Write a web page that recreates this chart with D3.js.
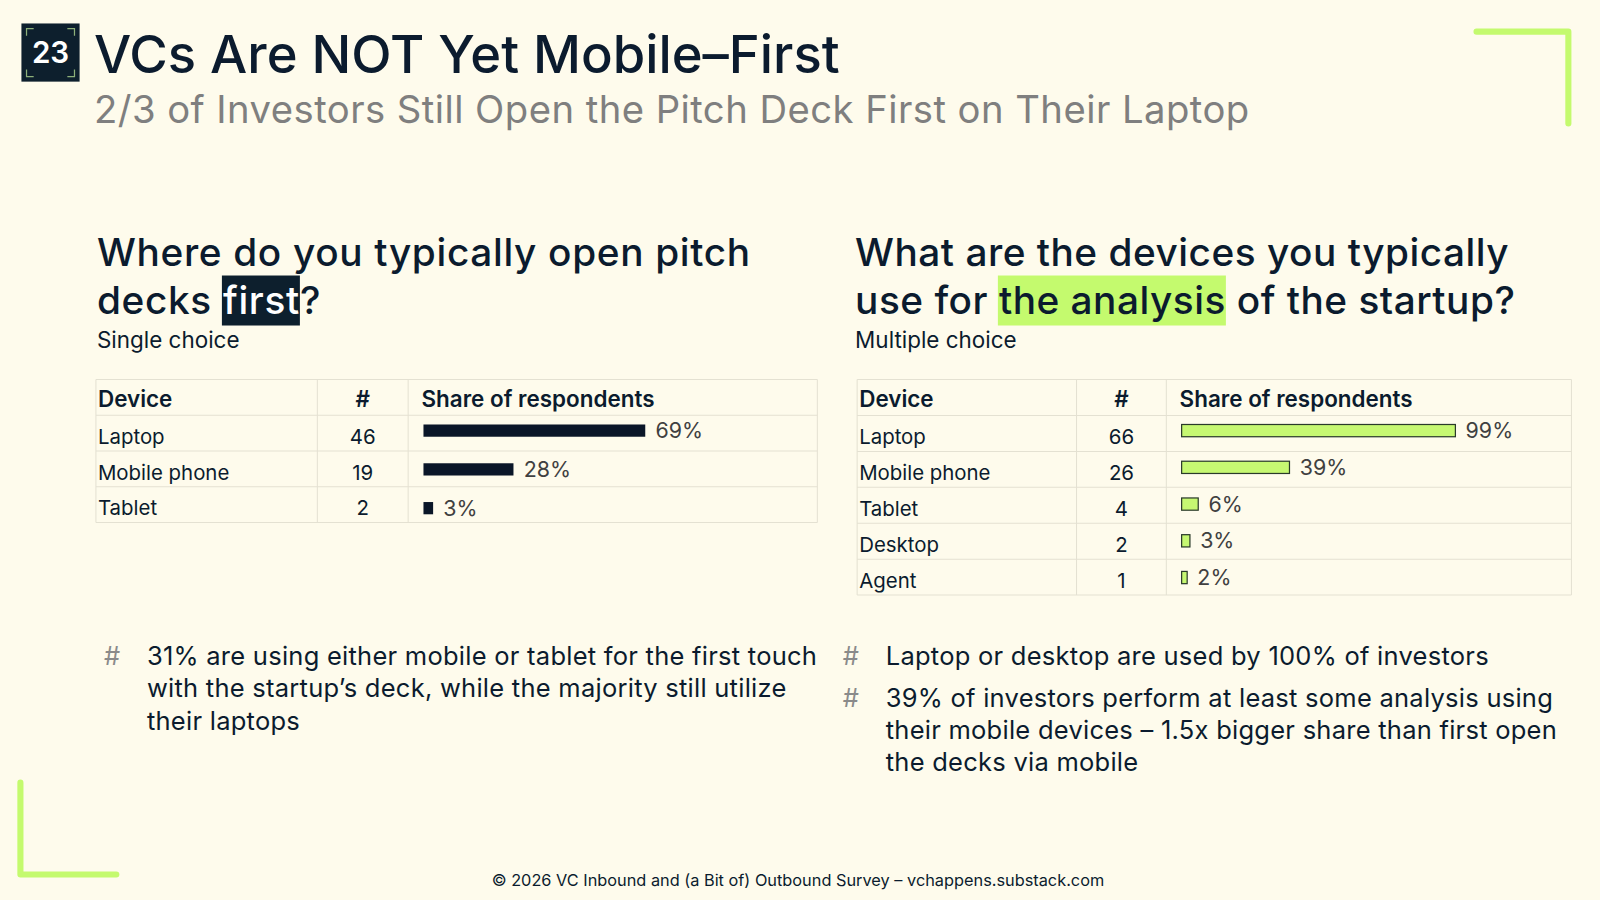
<!DOCTYPE html>
<html>
<head>
<meta charset="utf-8">
<script src="https://cdn.jsdelivr.net/npm/d3@7"></script>
<style>
  html, body { margin: 0; padding: 0; background: #fefbec; }
  svg { display: block; font-family: Inter, "Noto Sans", sans-serif; }
</style>
</head>
<body>
<div id="chart"></div>
<script>
// Data: first-open device (single choice)
const firstDevices = ['Laptop', 'Mobile phone', 'Tablet'];
const firstCounts = [46, 19, 2];
const firstShares = [69, 28, 3];

// Data: analysis device (multiple choice)
const analysisDevices = ['Laptop', 'Mobile phone', 'Tablet', 'Desktop', 'Agent'];
const analysisCounts = [66, 26, 4, 2, 1];
const analysisShares = [99, 39, 6, 3, 2];

const tableHeaders = ['Device', '#', 'Share of respondents'];

const leftNotes = [
    ['31% are using either mobile or tablet for the first touch',
     'with the startup\u2019s deck, while the majority still utilize',
     'their laptops']
];
const rightNotes = [
    ['Laptop or desktop are used by 100% of investors'],
    ['39% of investors perform at least some analysis using',
     'their mobile devices \u2013 1.5x bigger share than first open',
     'the decks via mobile']
];

const W = 1568, H = 882;
const dark = '#0b1b2e';
const lime = '#c4fa6e';
const grid = '#e4e1d2';

const svg = d3.select('#chart')
    .append('svg')
    .attr('width', 1600)
    .attr('height', 900)
    .attr('viewBox', `0 0 ${W} ${H}`);

svg.append('rect').attr('width', W).attr('height', H).attr('fill', '#fefbec');

// Decorative corner brackets
svg.append('path')
    .attr('d', 'M1447,31 H1537 V121')
    .attr('fill', 'none').attr('stroke', lime)
    .attr('stroke-width', 6).attr('stroke-linecap', 'round').attr('stroke-linejoin', 'round');
svg.append('path')
    .attr('d', 'M20,767 V857 H114')
    .attr('fill', 'none').attr('stroke', lime)
    .attr('stroke-width', 6).attr('stroke-linecap', 'round').attr('stroke-linejoin', 'round');

// Page number badge
const badge = svg.append('g').attr('transform', 'translate(21,23)');
badge.append('rect').attr('width', 57).attr('height', 57).attr('fill', '#0d1f2d');
badge.append('path')
    .attr('d', 'M5,12 V5 H12 M45,5 H52 V12 M5,45 V52 H12 M45,52 H52 V45')
    .attr('fill', 'none').attr('stroke', '#8db07a').attr('stroke-width', 1.2);
badge.append('text')
    .attr('x', 28.5).attr('y', 39)
    .attr('text-anchor', 'middle')
    .attr('fill', '#fff').attr('font-size', 29).attr('font-weight', 600)
    .text('23');

// Title and subtitle
svg.append('text')
    .attr('x', 92).attr('y', 72)
    .attr('fill', dark).attr('font-size', 51.5).attr('font-weight', 500)
    .text('VCs Are NOT Yet Mobile\u2013First');
svg.append('text')
    .attr('x', 92).attr('y', 121)
    .attr('fill', '#7f7f7f').attr('font-size', 37.5).attr('letter-spacing', 0.44)
    .text('2/3 of Investors Still Open the Pitch Deck First on Their Laptop');

// Question headings with highlighted word
function question(x, line1, pre, hl, post, hlFill, hlText, sub, ls) {
    const g = svg.append('g');
    g.append('text').attr('x', x).attr('y', 261)
        .attr('fill', dark).attr('font-size', 38).attr('font-weight', 500)
        .attr('letter-spacing', ls)
        .text(line1);
    const t2 = g.append('text').attr('x', x).attr('y', 308)
        .attr('fill', dark).attr('font-size', 38).attr('font-weight', 500)
        .attr('letter-spacing', ls);
    t2.append('tspan').text(pre);
    const hs = t2.append('tspan').attr('fill', hlText).text(hl);
    t2.append('tspan').text(post);
    // background behind the highlighted span
    const n = hs.node();
    const start = n.getStartPositionOfChar(0).x;
    const end = n.getEndPositionOfChar(hl.length - 1).x;
    g.insert('rect', 'text:nth-of-type(2)')
        .attr('x', start - 1).attr('y', 270)
        .attr('width', end - start + 1).attr('height', 49)
        .attr('fill', hlFill);
    g.append('text').attr('x', x).attr('y', 341)
        .attr('fill', dark).attr('font-size', 22)
        .text(sub);
}
question(95, 'Where do you typically open pitch', 'decks ', 'first', '?', '#0d1f2d', '#ffffff', 'Single choice', 0.65);
question(838, 'What are the devices you typically', 'use for ', 'the analysis', ' of the startup?', lime, dark, 'Multiple choice', 0.5);

// Tables with inline bars
function table(opts) {
    const { x0, x1, c1, c2, rowH, devices, counts, shares, barMax, barStep, barFill, barStroke } = opts;
    const top = 372;
    const g = svg.append('g');

    const y = d3.scaleBand()
        .domain(d3.range(devices.length + 1))
        .range([top, top + rowH * (devices.length + 1)]);
    // the share bars sit on their own slightly wider grid
    const yBar = d3.scalePoint()
        .domain(d3.range(1, devices.length + 1))
        .range([422, 422 + barStep * (devices.length - 1)]);
    const bx = c2 + 15;
    const x = d3.scaleLinear().domain([0, 100]).range([0, barMax]);

    // grid
    const bottom = y.range()[1];
    d3.range(devices.length + 2).forEach(i => {
        const yy = top + i * rowH;
        g.append('line').attr('x1', x0).attr('x2', x1).attr('y1', yy).attr('y2', yy)
            .attr('stroke', grid).attr('stroke-width', 1);
    });
    [x0, c1, c2, x1].forEach(xx => {
        g.append('line').attr('x1', xx).attr('x2', xx).attr('y1', top).attr('y2', bottom)
            .attr('stroke', grid).attr('stroke-width', 1);
    });

    // header
    const hy = y(0) + rowH / 2 + 9;
    g.append('text').attr('x', x0 + 2).attr('y', hy).attr('fill', dark)
        .attr('font-size', 22).attr('font-weight', 600).text(tableHeaders[0]);
    g.append('text').attr('x', (c1 + c2) / 2).attr('y', hy).attr('text-anchor', 'middle')
        .attr('fill', dark).attr('font-size', 22).attr('font-weight', 600).text(tableHeaders[1]);
    g.append('text').attr('x', c2 + 13).attr('y', hy).attr('fill', dark)
        .attr('font-size', 22).attr('font-weight', 600).text(tableHeaders[2]);

    const rowData = devices.map((d, i) => ({ device: d, count: counts[i], share: shares[i], i: i + 1 }));

    const rows = g.selectAll('g.row')
        .data(rowData)
        .join('g').attr('class', 'row')
        .attr('transform', d => `translate(0,${y(d.i)})`);

    rows.append('text').attr('x', x0 + 2).attr('y', rowH / 2 + 10.5)
        .attr('fill', dark).attr('font-size', 20).text(d => d.device);
    rows.append('text').attr('x', (c1 + c2) / 2).attr('y', rowH / 2 + 10.5)
        .attr('text-anchor', 'middle')
        .attr('fill', dark).attr('font-size', 20).text(d => d.count);

    const bars = g.selectAll('g.bar')
        .data(rowData)
        .join('g').attr('class', 'bar')
        .attr('transform', d => `translate(0,${yBar(d.i)})`);
    bars.append('rect')
        .attr('x', bx).attr('y', -6)
        .attr('width', d => x(d.share)).attr('height', 12)
        .attr('fill', barFill)
        .attr('stroke', barStroke).attr('stroke-width', barStroke === 'none' ? 0 : 1.2);
    bars.append('text').attr('x', d => bx + x(d.share) + 10).attr('y', 7.5)
        .attr('fill', '#404040').attr('font-size', 21)
        .text(d => d.share + '%');
}

table({ x0: 94, x1: 801, c1: 311, c2: 400, rowH: 35, devices: firstDevices, counts: firstCounts,
        shares: firstShares, barMax: 315, barStep: 38, barFill: '#0a1628', barStroke: 'none' });
table({ x0: 840, x1: 1540, c1: 1055, c2: 1143, rowH: 35.2, devices: analysisDevices, counts: analysisCounts,
        shares: analysisShares, barMax: 271, barStep: 36, barFill: '#c6f872', barStroke: '#2a3a2a' });

// Notes
function notes(xHash, xText, yStart, list) {
    let yy = yStart;
    list.forEach(lines => {
        svg.append('text').attr('x', xHash).attr('y', yy)
            .attr('fill', '#8a8a8a').attr('font-size', 25).text('#');
        lines.forEach((ln, i) => {
            svg.append('text').attr('x', xText).attr('y', yy + i * 31.5)
                .attr('fill', dark).attr('font-size', 25).attr('letter-spacing', 0.25)
                .text(ln);
        });
        yy += lines.length * 31.5 + 9.5;
    });
}
notes(102, 144, 652, leftNotes);
notes(826, 868, 652, rightNotes);

// Footer
svg.append('text')
    .attr('x', 782).attr('y', 868)
    .attr('text-anchor', 'middle')
    .attr('fill', dark).attr('font-size', 16)
    .text('\u00a9 2026 VC Inbound and (a Bit of) Outbound Survey \u2013 vchappens.substack.com');
</script>
</body>
</html>
